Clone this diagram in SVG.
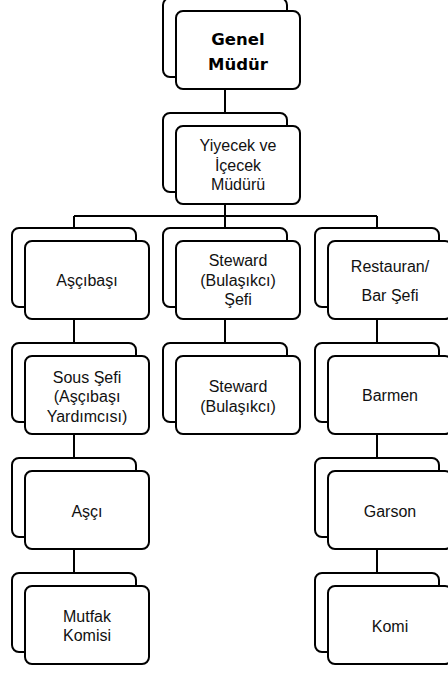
<svg xmlns="http://www.w3.org/2000/svg" width="448" height="673" viewBox="0 0 448 673">
<style>
.b{fill:#fff;stroke:#000;stroke-width:2}
.c{fill:none;stroke:#000;stroke-width:2}
.t{font-family:"Liberation Sans",Arial,sans-serif;font-size:16px;fill:#111;text-anchor:middle}
.h{font-family:"DejaVu Sans",sans-serif;font-size:16.5px;font-weight:bold;fill:#000;text-anchor:middle}
</style>
<rect width="448" height="673" fill="#fff"/>
<g id="connectors" class="c">
<path d="M225 89V113"/>
<path d="M225 204V216M74 216H377M74 216V228M225 216V228M377 216V228"/>
<path d="M74 319V343M225 319V343M377 319V343"/>
<path d="M74 434V458M377 434V458"/>
<path d="M74 549V573M377 549V573"/>
</g>
<g id="genel-mudur">
<rect class="b" x="163" y="-2" width="124" height="79" rx="7"/>
<rect class="b" x="176" y="11" width="124" height="78" rx="7"/>
<text class="h" x="238" y="45">Genel</text>
<text class="h" x="238" y="70">Müdür</text>
</g>
<g id="yiyecek-icecek-muduru">
<rect class="b" x="163" y="113" width="124" height="79" rx="7"/>
<rect class="b" x="176" y="126" width="124" height="78" rx="7"/>
<text class="t" x="238" y="151">Yiyecek ve</text>
<text class="t" x="238" y="170.5">İçecek</text>
<text class="t" x="238" y="190">Müdürü</text>
</g>
<g id="ascibasi">
<rect class="b" x="12" y="228" width="124" height="79" rx="7"/>
<rect class="b" x="25" y="241" width="124" height="78" rx="7"/>
<text class="t" x="87" y="286">Aşçıbaşı</text>
</g>
<g id="steward-sefi">
<rect class="b" x="163" y="228" width="124" height="79" rx="7"/>
<rect class="b" x="176" y="241" width="124" height="78" rx="7"/>
<text class="t" x="238" y="266">Steward</text>
<text class="t" x="238" y="285.5">(Bulaşıkcı)</text>
<text class="t" x="238" y="305">Şefi</text>
</g>
<g id="restauran-bar-sefi">
<rect class="b" x="315" y="228" width="124" height="79" rx="7"/>
<rect class="b" x="328" y="241" width="124" height="78" rx="7"/>
<text class="t" x="390" y="271.5">Restauran/</text>
<text class="t" x="390" y="300.5">Bar Şefi</text>
</g>
<g id="sous-sefi">
<rect class="b" x="12" y="343" width="124" height="79" rx="7"/>
<rect class="b" x="25" y="356" width="124" height="78" rx="7"/>
<text class="t" x="87" y="382.5">Sous Şefi</text>
<text class="t" x="87" y="402">(Aşçıbaşı</text>
<text class="t" x="87" y="421.5">Yardımcısı)</text>
</g>
<g id="steward">
<rect class="b" x="163" y="343" width="124" height="79" rx="7"/>
<rect class="b" x="176" y="356" width="124" height="78" rx="7"/>
<text class="t" x="238" y="392">Steward</text>
<text class="t" x="238" y="411.5">(Bulaşıkcı)</text>
</g>
<g id="barmen">
<rect class="b" x="315" y="343" width="124" height="79" rx="7"/>
<rect class="b" x="328" y="356" width="124" height="78" rx="7"/>
<text class="t" x="390" y="401">Barmen</text>
</g>
<g id="asci">
<rect class="b" x="12" y="458" width="124" height="79" rx="7"/>
<rect class="b" x="25" y="471" width="124" height="78" rx="7"/>
<text class="t" x="87" y="516.5">Aşçı</text>
</g>
<g id="garson">
<rect class="b" x="315" y="458" width="124" height="79" rx="7"/>
<rect class="b" x="328" y="471" width="124" height="78" rx="7"/>
<text class="t" x="390" y="516.5">Garson</text>
</g>
<g id="mutfak-komisi">
<rect class="b" x="12" y="573" width="124" height="79" rx="7"/>
<rect class="b" x="25" y="586" width="124" height="78" rx="7"/>
<text class="t" x="87" y="621.5">Mutfak</text>
<text class="t" x="87" y="641">Komisi</text>
</g>
<g id="komi">
<rect class="b" x="315" y="573" width="124" height="79" rx="7"/>
<rect class="b" x="328" y="586" width="124" height="78" rx="7"/>
<text class="t" x="390" y="631.5">Komi</text>
</g>
</svg>
